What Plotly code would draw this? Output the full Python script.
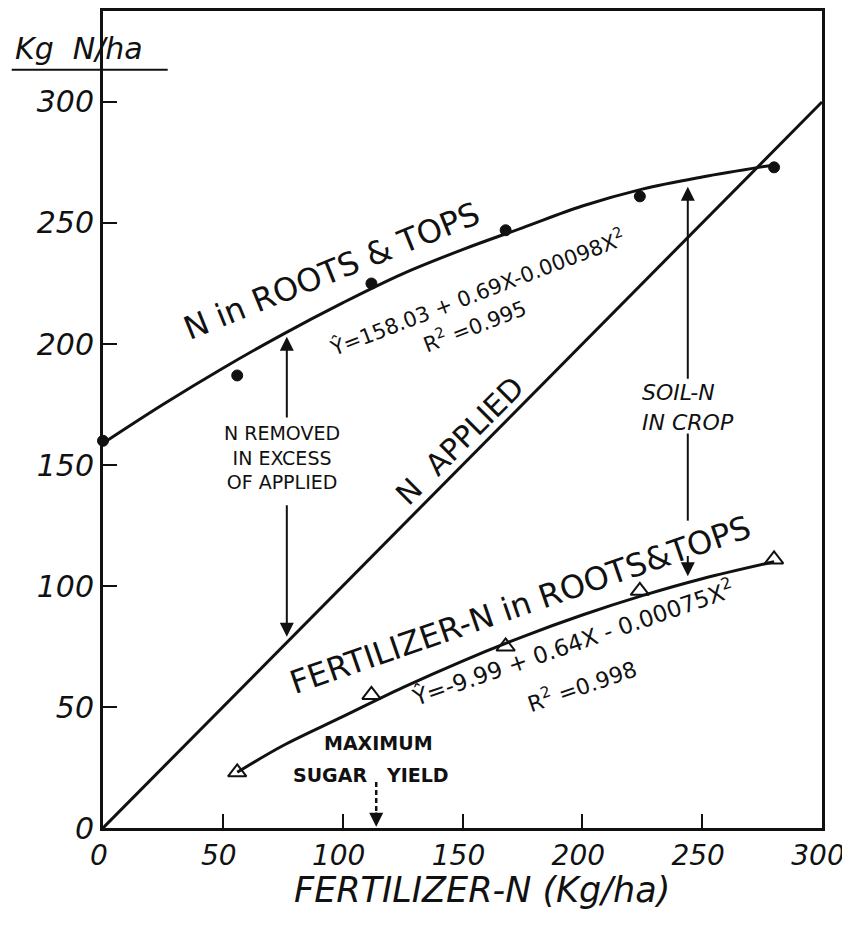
import plotly.graph_objects as go

# ---- data ----
x_rates = [0, 56, 112, 168, 224, 280]
n_roots_tops = [160, 187, 225, 247, 261, 273]

x_fert = [56, 112, 168, 224, 280]
fert_n_roots_tops = [23, 55, 75, 98, 111]

fit_total_x = [0, 25, 50, 75, 100, 125, 150, 175, 200, 225, 250, 280]
fit_total_y = [159, 175, 190, 204, 217, 229, 239, 248, 257, 264, 269, 274]

fit_fert_x = [56, 75, 100, 125, 150, 175, 200, 225, 250, 280]
fit_fert_y = [23, 34, 46, 58, 69, 79, 88, 96, 103, 110]

applied_x = [0, 300]
applied_y = [0, 300]

x_ticks = [0, 50, 100, 150, 200, 250, 300]
y_ticks = [0, 50, 100, 150, 200, 250, 300]

FONT = "DejaVu Sans"
INK = "#111111"

fig = go.Figure()

fig.add_trace(go.Scatter(x=applied_x, y=applied_y, mode="lines",
                         line=dict(color=INK, width=3), showlegend=False))
fig.add_trace(go.Scatter(x=fit_total_x, y=fit_total_y, mode="lines",
                         line=dict(color=INK, width=3, shape="spline"), showlegend=False))
fig.add_trace(go.Scatter(x=fit_fert_x, y=fit_fert_y, mode="lines",
                         line=dict(color=INK, width=3, shape="spline"), showlegend=False))
fig.add_trace(go.Scatter(x=x_rates, y=n_roots_tops, mode="markers", cliponaxis=False,
                         marker=dict(symbol="circle", size=11, color=INK,
                                     line=dict(color=INK, width=1)),
                         showlegend=False))
fig.add_trace(go.Scatter(x=x_fert, y=fert_n_roots_tops, mode="markers", cliponaxis=False,
                         marker=dict(symbol="triangle-up-open", size=16, color=INK,
                                     line=dict(color=INK, width=2)),
                         showlegend=False))


def label(x, y, text, size, angle=0, italic=False, bold=False, xref="x", yref="y",
          xanchor="center", align="center"):
    fig.add_annotation(x=x, y=y, xref=xref, yref=yref, text=text, showarrow=False,
                       textangle=angle, xanchor=xanchor, yanchor="middle", align=align,
                       font=dict(family=FONT, size=size, color=INK,
                                 style="italic" if italic else "normal",
                                 weight="bold" if bold else "normal"))


def arrow(x, y_tail, y_tip):
    fig.add_annotation(x=x, y=y_tip, ax=x, ay=y_tail, axref="x", ayref="y",
                       xref="x", yref="y", text="", showarrow=True,
                       arrowhead=2, arrowsize=1.4, arrowwidth=2, arrowcolor=INK)


label(95.5, 230, "N in ROOTS &amp; TOPS", 32, angle=-22)
label(156, 221.5, "Ŷ=158.03 + 0.69X-0.00098X<sup>2</sup>", 21, angle=-21)
label(155, 208, "R<sup>2</sup> =0.995", 21, angle=-21)
label(149, 160, "N  APPLIED", 30, angle=-45)
label(74.7, 153, "N REMOVED<br>IN EXCESS<br>OF APPLIED", 19)
label(224, 180, "SOIL-N", 22, italic=True, xanchor="left")
label(224, 167.5, "IN CROP", 22, italic=True, xanchor="left")
label(174, 92, "FERTILIZER-N in ROOTS&amp;TOPS", 32, angle=-19)
label(196, 77, "Ŷ=-9.99 + 0.64X - 0.00075X<sup>2</sup>", 23, angle=-19)
label(200, 59, "R<sup>2</sup> =0.998", 22, angle=-19)
label(115, 35, "MAXIMUM", 19, bold=True)
label(112, 22, "SUGAR   YIELD", 19, bold=True)

# arrows
arrow(76.7, 169, 203)
arrow(76.7, 134, 79)
arrow(244, 185, 265)
fig.add_shape(type="line", x0=244, x1=244, y0=163, y1=127, xref="x", yref="y",
              line=dict(color=INK, width=2))
arrow(244, 113, 104)
fig.add_shape(type="line", x0=114, x1=114, y0=19, y1=7, xref="x", yref="y",
              line=dict(color=INK, width=2.5, dash="5px,3px"))
arrow(114, 7, 0.5)

# y-axis unit label with rule
label(-0.033, 0.954, "Kg  N/ha", 30, italic=True, xref="paper", yref="paper")
fig.add_shape(type="line", xref="paper", yref="paper", x0=-0.127, x1=0.09,
              y0=0.928, y1=0.928, line=dict(color=INK, width=2))

# x-axis title
fig.add_annotation(x=158, y=-0.076, xref="x", yref="paper", text="FERTILIZER-N (Kg/ha)",
                   showarrow=False, yanchor="middle", xanchor="center",
                   font=dict(family=FONT, size=35, color=INK, style="italic"))

axis_common = dict(showline=True, linewidth=3, linecolor=INK, mirror=True,
                   ticks="inside", ticklen=14, tickwidth=2, tickcolor=INK,
                   showgrid=False, zeroline=False, automargin=False,
                   ticklabeloverflow="allow")

# the page body adds an 8px offset, so the figure is sized to fit the window
fig.update_layout(
    width=842, height=925, autosize=False,
    margin=dict(l=95, r=28, t=3, b=105),
    plot_bgcolor="white", paper_bgcolor="white",
    xaxis=dict(range=[0, 300], tickvals=x_ticks, ticktext=[str(v) for v in x_ticks],
               tickfont=dict(family=FONT, size=28, color=INK, style="italic"),
               ticklabelshift=-4, **axis_common),
    yaxis=dict(range=[0, 337.6], tickvals=y_ticks, ticktext=[str(v) for v in y_ticks],
               tickfont=dict(family=FONT, size=30, color=INK, style="italic"),
               **axis_common),
    showlegend=False,
)

fig.write_html("out.html")
